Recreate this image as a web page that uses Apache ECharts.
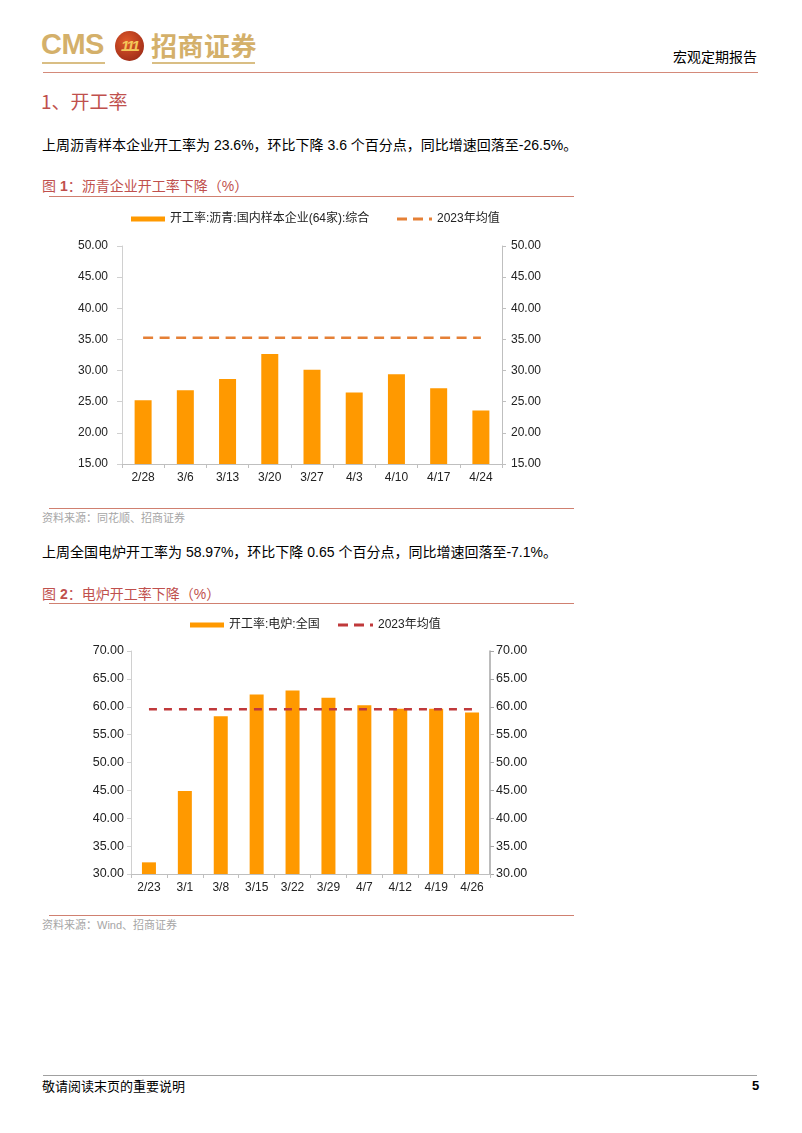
<!DOCTYPE html>
<html>
<head>
<meta charset="utf-8">
<script src="https://cdn.jsdelivr.net/npm/echarts@6/dist/echarts.min.js"></script>
<style>
  html, body { margin: 0; padding: 0; background: #fff; }
  #page { position: relative; width: 802px; height: 1133px; overflow: hidden; font-family: "Liberation Sans", "Noto Sans CJK SC", sans-serif; color: #000; }
  .t { position: absolute; white-space: nowrap; }
  .rule { position: absolute; height: 1.5px; background: #D08070; }
  #chart { position: absolute; left: 0; top: 0; width: 802px; height: 1133px; }
</style>
</head>
<body>
<div id="page">
  <!-- header -->
  <div class="t" style="left:41px;top:26px;font-size:29px;font-weight:bold;color:#D4B06A;letter-spacing:-0.5px;line-height:36px;">CMS</div>
  <div style="position:absolute;left:42px;top:62px;width:63px;height:1.5px;background:#D9BE84;"></div>
  <div style="position:absolute;left:115px;top:31px;width:29px;height:30px;border-radius:50%;background:radial-gradient(circle at 40% 35%, #E05A2A, #A8321A 70%, #7A2010);"></div>
  <div class="t" style="left:117px;top:33px;width:25px;text-align:center;font-size:15px;font-weight:bold;font-style:italic;color:#F3C75A;line-height:26px;letter-spacing:-2px;">111</div>
  <div class="t" style="left:151px;top:29px;font-size:26px;font-weight:bold;color:#D4B06A;line-height:32px;font-family:'Noto Sans CJK SC';letter-spacing:0.5px;">招商证券</div>
  <div style="position:absolute;left:152px;top:62px;width:103px;height:1.5px;background:#D9BE84;"></div>
  <div class="t" style="left:673px;top:46px;font-size:14px;line-height:20px;font-family:'Noto Sans CJK SC';">宏观定期报告</div>
  <div class="rule" style="left:43px;top:71.5px;width:715px;background:#D48A7A;"></div>

  <div class="t" style="left:41px;top:88px;font-size:19px;line-height:26px;color:#C0504D;font-family:'Noto Sans CJK SC';">1、开工率</div>

  <div class="t" style="left:42px;top:135px;font-size:14px;line-height:20px;">上周沥青样本企业开工率为 23.6%，环比下降 3.6 个百分点，同比增速回落至-26.5%。</div>

  <div class="t" style="left:42px;top:176px;font-size:14px;line-height:20px;color:#C0504D;">图 <b>1</b>：沥青企业开工率下降（%）</div>
  <div class="rule" style="left:49px;top:195.5px;width:525px;"></div>

  <div class="rule" style="left:49px;top:507.5px;width:525px;"></div>
  <div class="t" style="left:42px;top:510px;font-size:11px;line-height:16px;color:#A6A6A6;">资料来源：同花顺、招商证券</div>

  <div class="t" style="left:42px;top:542px;font-size:14px;line-height:20px;">上周全国电炉开工率为 58.97%，环比下降 0.65 个百分点，同比增速回落至-7.1%。</div>

  <div class="t" style="left:42px;top:584px;font-size:14px;line-height:20px;color:#C0504D;">图 <b>2</b>：电炉开工率下降（%）</div>
  <div class="rule" style="left:49px;top:602.5px;width:525px;"></div>

  <div class="rule" style="left:49px;top:914.5px;width:525px;"></div>
  <div class="t" style="left:42px;top:917px;font-size:11px;line-height:16px;color:#A6A6A6;">资料来源：Wind、招商证券</div>

  <!-- footer -->
  <div style="position:absolute;left:43px;top:1075px;width:714px;height:1px;background:#A0A0A0;"></div>
  <div class="t" style="left:42px;top:1077px;font-size:13px;line-height:18px;font-family:'Noto Sans CJK SC';">敬请阅读末页的重要说明</div>
  <div class="t" style="left:752px;top:1077px;font-size:13px;line-height:18px;font-weight:bold;">5</div>

  <div id="chart"></div>
</div>
<script>
// Chart 1 data: 沥青开工率
const cats1 = ['2/28', '3/6', '3/13', '3/20', '3/27', '4/3', '4/10', '4/17', '4/24'];
const rate1 = [25.25, 26.85, 28.66, 32.66, 30.15, 26.47, 29.40, 27.17, 23.60];
const avg1 = [35.28, 35.28, 35.28, 35.28, 35.28, 35.28, 35.28, 35.28, 35.28];
const name1 = '开工率:沥青:国内样本企业(64家):综合';

// Chart 2 data: 电炉开工率
const cats2 = ['2/23', '3/1', '3/8', '3/15', '3/22', '3/29', '4/7', '4/12', '4/19', '4/26'];
const rate2 = [32.09, 44.90, 58.30, 62.20, 62.90, 61.60, 60.28, 59.66, 59.62, 58.97];
const avg2 = [59.57, 59.57, 59.57, 59.57, 59.57, 59.57, 59.57, 59.57, 59.57, 59.57];
const name2 = '开工率:电炉:全国';
const avgName = '2023年均值';

// axis ticks
const y1Ticks = { min: 15, max: 50, interval: 5 };
const y2Ticks = { min: 30, max: 70, interval: 5 };

const FONT = '"Liberation Sans", "Noto Sans CJK SC", sans-serif';
const fmt = v => v.toFixed(2);
const DASH_ICON = 'path://M0,0H10V3H0Z M16,0H26V3H16Z M32,0H35V3H32Z';

function yAxis(gridIndex, ticks, pos, opts) {
  return {
    type: 'value', gridIndex, position: pos,
    min: ticks.min, max: ticks.max, interval: ticks.interval,
    splitLine: { show: false },
    axisLine: { show: true, lineStyle: { color: opts.lineColor, width: opts.lineWidth || 1 } },
    axisTick: { show: true, inside: false, length: opts.tickLen, lineStyle: { color: opts.lineColor } },
    axisLabel: { formatter: fmt, color: '#222', fontSize: opts.fontSize, fontFamily: FONT, margin: opts.margin }
  };
}
function xAxis(gridIndex, data) {
  return {
    type: 'category', gridIndex, data,
    boundaryGap: true,
    axisLine: { show: true, lineStyle: { color: '#BFBFBF' } },
    axisTick: { show: true, alignWithLabel: false, length: 4, lineStyle: { color: '#BFBFBF' } },
    axisLabel: { color: '#222', fontSize: 12, fontFamily: FONT, margin: 8, interval: 0 }
  };
}
function legend(name, left, top, isLine) {
  return {
    data: [{ name, icon: isLine ? DASH_ICON : 'rect' }], left, top, padding: 0, orient: 'horizontal',
    itemWidth: isLine ? 35 : 34, itemHeight: isLine ? 3 : 5,
    selectedMode: false,
    textStyle: { color: '#222', fontSize: 12, fontFamily: FONT }
  };
}

const chart = echarts.init(document.getElementById('chart'), null, { renderer: 'canvas' });
chart.setOption({
  backgroundColor: 'transparent',
  animation: false,
  legend: [
    legend(name1, 131, 213, false),
    legend(avgName, 397, 213, true),
    legend(name2, 190, 619, false),
    legend(avgName + ' ', 338, 619, true)
  ],
  grid: [
    { left: 122, top: 246, width: 380, height: 218 },
    { left: 131, top: 651, width: 359, height: 223 }
  ],
  xAxis: [xAxis(0, cats1), xAxis(1, cats2)],
  yAxis: [
    yAxis(0, y1Ticks, 'left', { lineColor: '#D0D0D0', tickLen: 5, fontSize: 12, margin: 14 }),
    yAxis(0, y1Ticks, 'right', { lineColor: '#BFBFBF', tickLen: 4, fontSize: 12, margin: 9 }),
    yAxis(1, y2Ticks, 'left', { lineColor: '#D0D0D0', tickLen: 4, fontSize: 12.5, margin: 7 }),
    yAxis(1, y2Ticks, 'right', { lineColor: '#A6A6A6', tickLen: 4, fontSize: 12.5, margin: 6, lineWidth: 1.5 })
  ],
  series: [
    { name: name1, type: 'bar', xAxisIndex: 0, yAxisIndex: 0, data: rate1, barWidth: 17, itemStyle: { color: '#FF9900' } },
    { name: avgName, type: 'line', xAxisIndex: 0, yAxisIndex: 0, data: avg1, symbol: 'none', showSymbol: false,
      lineStyle: { color: '#E58036', width: 2.5, type: [10, 6.5] }, itemStyle: { color: '#E58036' } },
    { name: name2, type: 'bar', xAxisIndex: 1, yAxisIndex: 2, data: rate2, barWidth: 14, itemStyle: { color: '#FF9900' } },
    { name: avgName + ' ', type: 'line', xAxisIndex: 1, yAxisIndex: 2, data: avg2, symbol: 'none', showSymbol: false, z: 3,
      lineStyle: { color: '#C0393B', width: 2.5, type: [8, 7] }, itemStyle: { color: '#C0393B' } }
  ]
});
</script>
</body>
</html>
